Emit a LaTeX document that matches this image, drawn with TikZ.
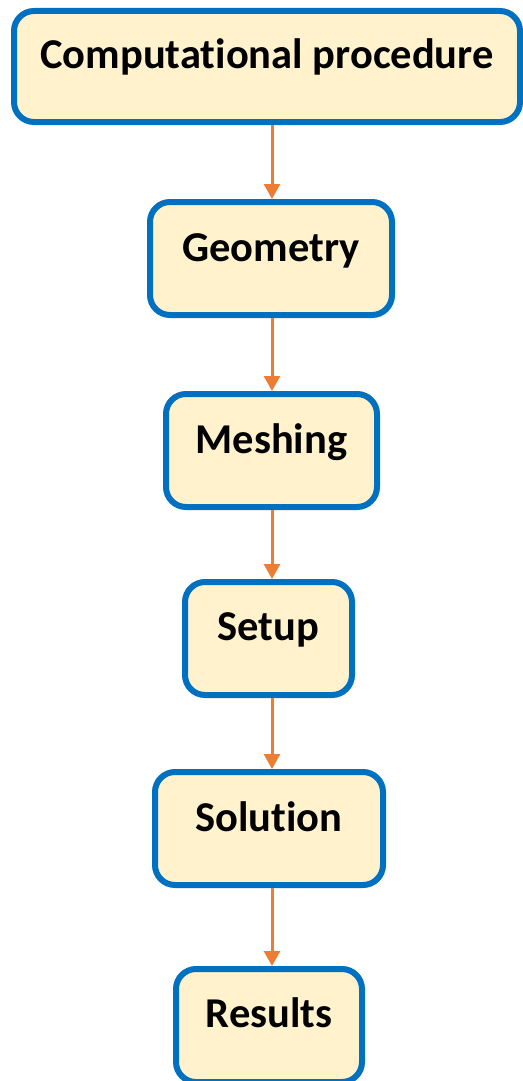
\documentclass[tikz,border=0pt]{standalone}
\usepackage{fontspec}
\setmainfont{Carlito}[RawFeature={-liga;-dlig;-clig}]
\usetikzlibrary{arrows.meta}
\definecolor{stepblue}{HTML}{0070C0}
\definecolor{stepfill}{HTML}{FFF2CC}
\definecolor{flow}{HTML}{ED7D31}
\tikzset{
  stepbox/.style={draw=stepblue, fill=stepfill, line width=6pt, rounded corners=20pt,
    rectangle, inner sep=0pt, align=center,
    font=\fontsize{42.5}{50}\selectfont\bfseries,
    text height=59pt, text depth=54pt},
  flowarrow/.style={draw=flow, line width=3pt, -{Triangle[width=16pt,length=15pt]}}
}
\begin{document}
\begin{tikzpicture}
\useasboundingbox (0,0) rectangle (522pt,-1081pt);
\node[stepbox, minimum width=506pt, text height=57pt] (comp) at (267pt,-66.5pt) {Computational procedure};
\node[stepbox, minimum width=242pt] (geo) at (271pt,-258.5pt) {Geometry};
\node[stepbox, minimum width=211pt] (mesh) at (271.5pt,-450.5pt) {Meshing};
\node[stepbox, minimum width=167pt, text height=58pt, text depth=55pt] (setup) at (268.5pt,-638.5pt) {Setup};
\node[stepbox, minimum width=228pt] (sol) at (269pt,-828.5pt) {Solution};
\node[stepbox, minimum width=186pt, text height=58pt, text depth=55pt] (res) at (269pt,-1025.5pt) {Results};
\coordinate (ax) at (272pt,0);
\draw[flowarrow] (comp.south -| ax) -- (geo.north -| ax);
\draw[flowarrow] (geo.south -| ax) -- (mesh.north -| ax);
\draw[flowarrow] (mesh.south -| ax) -- (setup.north -| ax);
\draw[flowarrow] (setup.south -| ax) -- (sol.north -| ax);
\draw[flowarrow] (sol.south -| ax) -- (res.north -| ax);
\end{tikzpicture}
\end{document}
